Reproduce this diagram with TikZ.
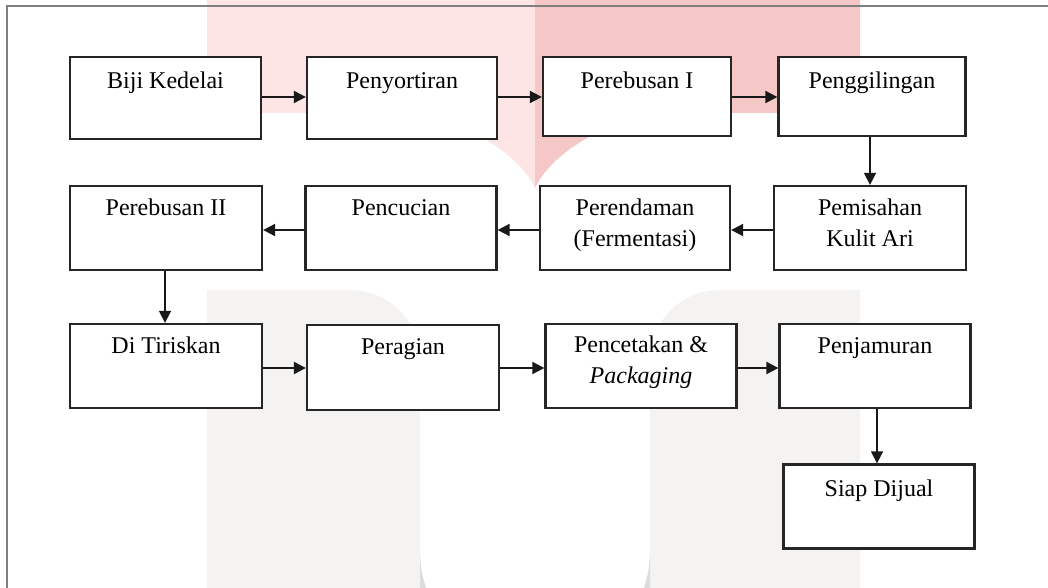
\documentclass[tikz,border=0pt]{standalone}
\usepackage{fontspec}
\setmainfont{Liberation Serif}
\usetikzlibrary{arrows.meta}
\definecolor{pinkL}{HTML}{FDE5E5}
\definecolor{pinkD}{HTML}{F5C7C7}
\definecolor{wmgrey}{HTML}{F4F3F2}
\definecolor{wmdark}{HTML}{DCDCDC}
\definecolor{framegrey}{HTML}{7F7F7F}
\begin{document}
\begin{tikzpicture}[x=1pt,y=-1pt,
  stepbox/.style={draw=black!85,line width=2.3pt,fill=white,inner sep=0pt},
  lbl/.style={anchor=base,align=center,inner sep=0pt,font=\fontsize{24}{31}\selectfont},
  arr/.style={draw=black!90,line width=2pt,-{Triangle[length=12pt,width=12pt]}},
  varr/.style={draw=black!90,line width=1.6pt,-{Triangle[length=12pt,width=12pt]}}]
\useasboundingbox (0,0) rectangle (1048,588);
\fill[white] (0,0) rectangle (1048,588);
% watermark
\fill[pinkL] (207,0) -- (535,0) -- (535,188) .. controls (520,155) and (470,125) .. (420,113) -- (207,113) -- cycle;
\fill[pinkD] (535,0) -- (860,0) -- (860,113) -- (650,113) .. controls (600,125) and (550,155) .. (535,188) -- cycle;
\fill[wmgrey] (207,588) -- (207,290) -- (350,290) .. controls (388.7,290) and (420,321.3) .. (420,360) -- (420,588) -- cycle;
\fill[wmgrey] (860,588) -- (860,290) -- (720,290) .. controls (681.3,290) and (650,321.3) .. (650,360) -- (650,588) -- cycle;
\fill[wmdark] (420,553) .. controls (421,570) .. (426,588) -- (420,588) -- cycle;
\fill[wmdark] (650,553) .. controls (649,570) .. (644,588) -- (650,588) -- cycle;
% frame
\draw[framegrey,line width=1.2pt] (7,588) -- (7,6) -- (1048,6);
% boxes
\node[stepbox,minimum width=191pt,minimum height=82pt] (bk) at (165.5,98) {};
\node[stepbox,minimum width=190pt,minimum height=82pt] (ps) at (402,98) {};
\node[stepbox,minimum width=188pt,minimum height=79pt] (pr1) at (637,96.5) {};
\node[stepbox,minimum width=187pt,minimum height=79pt] (pg) at (872,96.5) {};
\node[stepbox,minimum width=192pt,minimum height=84pt] (pr2) at (166,228) {};
\node[stepbox,minimum width=191pt,minimum height=84pt] (pc) at (401,228) {};
\node[stepbox,minimum width=190pt,minimum height=84pt] (pd) at (635,228) {};
\node[stepbox,minimum width=192pt,minimum height=84pt] (pm) at (870,228) {};
\node[stepbox,minimum width=192pt,minimum height=84pt] (dt) at (166,366) {};
\node[stepbox,minimum width=192pt,minimum height=85pt] (pa) at (403,367.5) {};
\node[stepbox,minimum width=191pt,minimum height=84pt] (pk) at (641,366) {};
\node[stepbox,minimum width=191pt,minimum height=84pt] (pj) at (875,366) {};
\node[stepbox,minimum width=191pt,minimum height=84pt] (sd) at (879,506.5) {};
% labels
\node[lbl] (tbk) at ([yshift=-33pt]bk.north) {Biji Kedelai};
\node[lbl] (tps) at ([yshift=-33pt]ps.north) {Penyortiran};
\node[lbl] (tpr1) at ([yshift=-33pt]pr1.north) {Perebusan I};
\node[lbl] (tpg) at ([yshift=-33pt]pg.north) {Penggilingan};
\node[lbl] (tpr2) at ([yshift=-31pt]pr2.north) {Perebusan II};
\node[lbl] (tpc) at ([yshift=-31pt]pc.north) {Pencucian};
\node[lbl] (tpd) at ([yshift=-62pt]pd.north) {Perendaman\\(Fermentasi)};
\node[lbl] (tpm) at ([yshift=-62pt]pm.north) {Pemisahan\\Kulit Ari};
\node[lbl] (tdt) at ([yshift=-31pt]dt.north) {Di Tiriskan};
\node[lbl] (tpa) at ([yshift=-31pt]pa.north) {Peragian};
\node[lbl] (tpk) at ([yshift=-61pt]pk.north) {Pencetakan \&\\\textit{Packaging}};
\node[lbl] (tpj) at ([yshift=-31pt]pj.north) {Penjamuran};
\node[lbl] (tsd) at ([yshift=-33pt]sd.north) {Siap Dijual};
% connectors
\draw[arr] ([yshift=1pt]bk.east) -- ([yshift=1pt]bk.east -| ps.west);
\draw[arr] ([yshift=1pt]ps.east) -- ([yshift=1pt]ps.east -| pr1.west);
\draw[arr] ([yshift=-0.5pt]pr1.east) -- ([yshift=-0.5pt]pr1.east -| pg.west);
\draw[varr] ([xshift=-2pt]pg.south) -- ([xshift=-2pt]pg.south |- pm.north);
\draw[arr] ([yshift=-2pt]pm.west) -- ([yshift=-2pt]pm.west -| pd.east);
\draw[arr] ([yshift=-2pt]pd.west) -- ([yshift=-2pt]pd.west -| pc.east);
\draw[arr] ([yshift=-2pt]pc.west) -- ([yshift=-2pt]pc.west -| pr2.east);
\draw[varr] ([xshift=-1pt]pr2.south) -- ([xshift=-1pt]pr2.south |- dt.north);
\draw[arr] ([yshift=-2pt]dt.east) -- ([yshift=-2pt]dt.east -| pa.west);
\draw[arr] ([yshift=-0.5pt]pa.east) -- ([yshift=-0.5pt]pa.east -| pk.west);
\draw[arr] ([yshift=-2pt]pk.east) -- ([yshift=-2pt]pk.east -| pj.west);
\draw[varr] ([xshift=2pt]pj.south) -- ([xshift=2pt]pj.south |- sd.north);
\end{tikzpicture}
\end{document}
